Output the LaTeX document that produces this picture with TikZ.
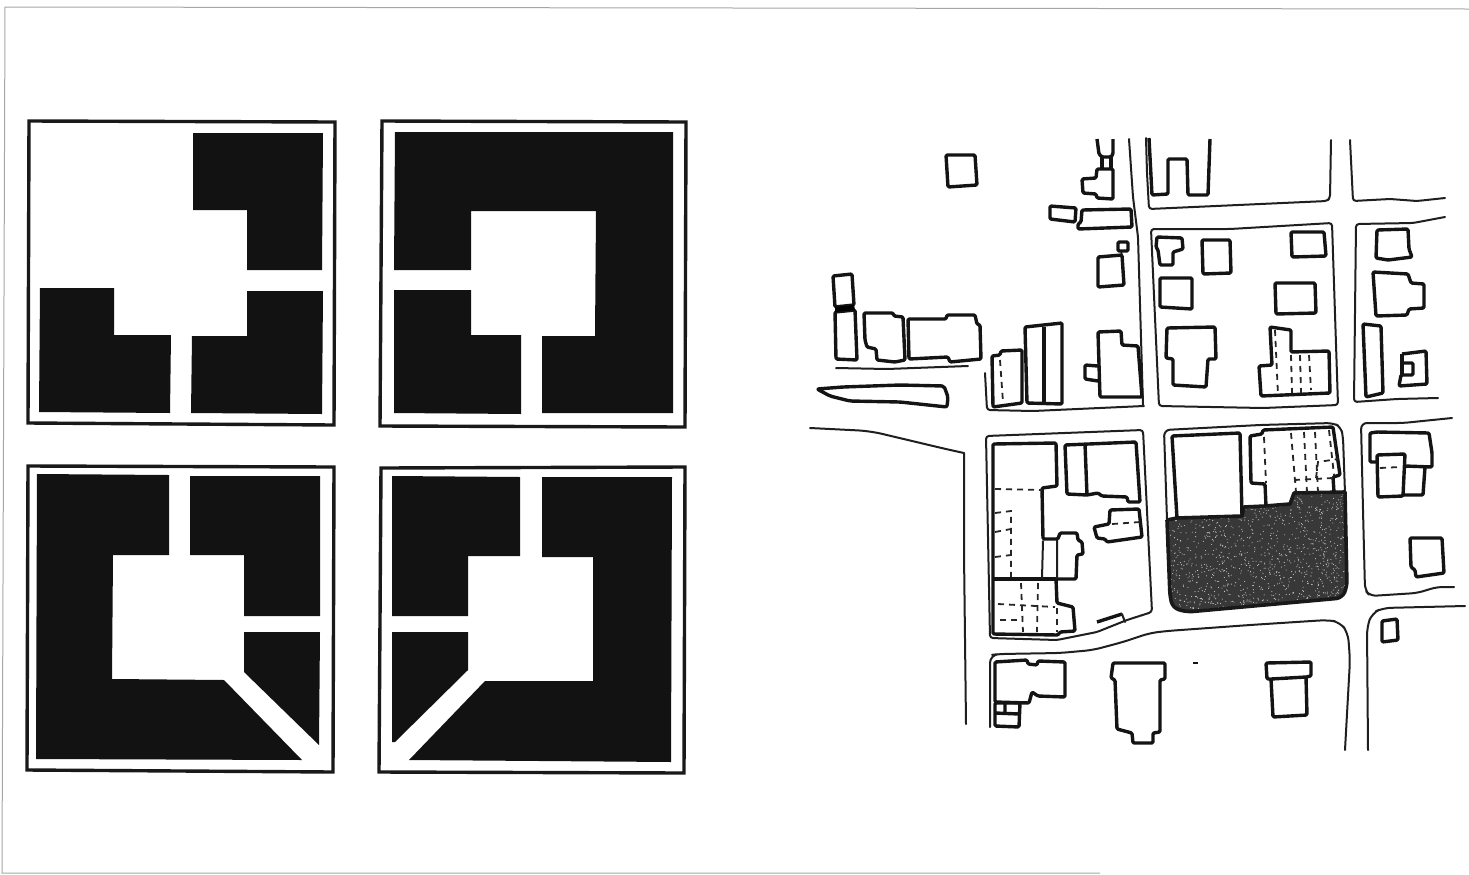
\documentclass[tikz,border=0pt]{standalone}
\usepackage{tikz}
\tikzset{
  mass/.style={fill=black!93,draw=none},
  panel/.style={draw=black!90,line width=1.7pt},
  bldg/.style={draw=black!92,line width=1.7pt,line join=round,rounded corners=0.6pt},
  road/.style={draw=black!88,line width=1pt,line join=round,line cap=round,rounded corners=1.5pt},
  hidn/.style={draw=black!85,line width=0.9pt,dash pattern=on 3pt off 2.5pt},
}
\begin{document}
\begin{tikzpicture}[x=0.5pt,y=-0.5pt]
\useasboundingbox (0,0) rectangle (1469,874);
%%%%%%%%%%%%%%%%%%%% sheet edge %%%%%%%%%%%%%%%%%%%%
\draw[gray!70,line width=0.5pt] (1469,9) -- (5,7) -- (2,873) -- (1100,873);
%%%%%%%%%%%%%%%%%%%% panel top left %%%%%%%%%%%%%%%%%%%%
\draw[panel] (29,121) -- (335,122) -- (334,425) -- (28,423) -- cycle;
\fill[mass] (193,133) -- (323,133) -- (322,270) -- (247,270) -- (247,210) -- (193,210) -- cycle;
\fill[mass] (40,288) -- (114,288) -- (114,335) -- (171,335) -- (170,413) -- (39,412) -- cycle;
\fill[mass] (247,291) -- (323,291) -- (322,414) -- (191,413) -- (192,336) -- (247,336) -- cycle;
%%%%%%%%%%%%%%%%%%%% panel top right %%%%%%%%%%%%%%%%%%%%
\draw[panel] (382,121) -- (686,122) -- (685,427) -- (380,426) -- cycle;
\fill[mass] (395,132) -- (673,132) -- (673,413) -- (542,413) -- (542,336) -- (595,336) -- (596,211) -- (471,211) -- (471,270) -- (394,270) -- cycle;
\fill[mass] (394,290) -- (471,290) -- (471,335) -- (521,335) -- (521,414) -- (394,413) -- cycle;
%%%%%%%%%%%%%%%%%%%% panel bottom left %%%%%%%%%%%%%%%%%%%%
\draw[panel] (28,466) -- (334,467) -- (333,772) -- (27,770) -- cycle;
\fill[mass] (37,474) -- (169,475) -- (169,555) -- (113,555) -- (112,679) -- (224,680) -- (302,760) -- (36,759) -- cycle;
\fill[mass] (190,476) -- (320,476) -- (320,616) -- (244,616) -- (244,555) -- (190,555) -- cycle;
\fill[mass] (244,632) -- (320,632) -- (319,745) -- (244,672) -- cycle;
%%%%%%%%%%%%%%%%%%%% panel bottom right %%%%%%%%%%%%%%%%%%%%
\draw[panel] (381,468) -- (685,467) -- (684,773) -- (379,772) -- cycle;
\fill[mass] (392,476) -- (520,477) -- (520,556) -- (468,556) -- (468,616) -- (392,616) -- cycle;
\fill[mass] (392,632) -- (468,632) -- (468,670) -- (395,742) -- (392,742) -- cycle;
\fill[mass] (542,477) -- (672,477) -- (671,762) -- (409,760) -- (485,681) -- (593,681) -- (593,557) -- (542,557) -- cycle;
%%%%%%%%%%%%%%%%%%%% the site, roads %%%%%%%%%%%%%%%%%%%%
\draw[road] (1129,139) -- (1133,197) -- (1138,237) -- (1143,405);
\draw[road] (985,373) -- (987,410) -- (1033,411) -- (1144,406);
\draw[road] (836,368) -- (887,369) -- (968,366);
\draw[road,rounded corners=6pt] (810,428) -- (870,431) -- (950,450) -- (964,453);
\draw[road] (964,453) -- (964,553) -- (966,724);
\draw[road] (1146,138) -- (1147,173) -- (1149,209) -- (1327,201) -- (1330,198) -- (1331,140);
\draw[road] (1350,140) -- (1353,201) -- (1390,199) -- (1417,201) -- (1445,198);
\draw[road] (1151,229) -- (1230,229) -- (1332,223) -- (1338,405) -- (1263,408) -- (1159,406) -- cycle;
\draw[road] (1445,217) -- (1413,223) -- (1356,224) -- (1354,402) -- (1397,399) -- (1438,398);
\draw[road] (986,436) -- (1143,430) -- (1152,612) -- (1127,620) -- (1097,632) -- (1057,640) -- (990,638) -- cycle;
\draw[road,rounded corners=4pt] (990,727) -- (990,655) -- (1000,654) -- (1060,653) -- (1093,650) -- (1123,642) -- (1150,633) -- (1167,631) -- (1250,625) -- (1327,620) -- (1340,622) -- (1348,633) -- (1350,660) -- (1345,750);
\draw[road,rounded corners=3pt] (1167,520) -- (1164,430) -- (1260,425) -- (1333,423) -- (1341,427) -- (1343,437) -- (1345,493);
\draw[road,rounded corners=3pt] (1452,418) -- (1403,423) -- (1361,423) -- (1363,510) -- (1365,590) -- (1370,596) -- (1417,593) -- (1437,587) -- (1454,587);
\draw[road,rounded corners=4pt] (1465,606) -- (1383,608) -- (1372,613) -- (1367,627) -- (1368,750);
%%%%%%%%%%%%%%%%%%%% the site, upper left %%%%%%%%%%%%%%%%%%%%
\draw[bldg] (946,155) -- (975,155) -- (977,185) -- (948,187) -- cycle;
\draw[bldg] (1097,139) -- (1099,154) -- (1102,157) -- (1111,157) -- (1113,154) -- (1113,139);
\draw[bldg] (1102,157) -- (1102,169) (1111,157) -- (1111,169);
\draw[bldg] (1097,169) -- (1113,169) -- (1113,199) -- (1097,198) -- (1096,194) -- (1083,193) -- (1082,179) -- (1096,178) -- cycle;
\draw[bldg] (1050,206) -- (1076,208) -- (1075,222) -- (1050,219) -- cycle;
\draw[bldg] (1082,210) -- (1131,209) -- (1132,227) -- (1078,229) -- (1078,224) -- (1081,222) -- cycle;
\draw[bldg] (1118,242) rectangle (1128,251);
\draw[bldg] (1098,257) -- (1122,255) -- (1124,285) -- (1098,287) -- cycle;
\draw[bldg,line width=0.8pt] (1121,251) -- (1122,255);
\draw[bldg] (833,276) -- (852,274) -- (854,305) -- (835,307) -- cycle;
\draw[bldg] (835,312) -- (855,310) -- (857,360) -- (836,359) -- cycle;
\fill[black] (835,307) -- (854,305) -- (855,310) -- (835,312) -- cycle;
\draw[bldg] (864,313) -- (893,313) -- (894,316) -- (903,317) -- (905,360) -- (895,362) -- (877,360) -- (876,349) -- (867,347) -- (865,340) -- cycle;
\draw[bldg] (908,319) -- (946,319) -- (947,315) -- (975,315) -- (977,324) -- (980,325) -- (981,359) -- (950,362) -- (948,357) -- (909,359) -- cycle;
\draw[bldg,rounded corners=1pt] (817,389) -- (843,387) -- (900,385) -- (944,386) -- (948,397) -- (947,407) -- (900,402) -- (850,401) -- (830,396) -- cycle;
\draw[bldg] (992,356) -- (1000,355) -- (1001,351) -- (1022,350) -- (1022,403) -- (993,407) -- cycle;
\draw[hidn] (1000,360) -- (1003,402);
\draw[bldg] (1025,327) -- (1062,323) -- (1062,404) -- (1027,403) -- cycle;
\draw[bldg] (1044,327) -- (1044,405);
\draw[bldg] (1098,332) -- (1121,331) -- (1122,345) -- (1138,346) -- (1142,397) -- (1100,397) -- cycle;
\draw[bldg] (1098,366) -- (1085,365) -- (1085,379) -- (1098,381);
%%%%%%%%%%%%%%%%%%%% the site, upper middle %%%%%%%%%%%%%%%%%%%%
\draw[bldg] (1149,138) -- (1152,195) -- (1168,194) -- (1168,159) -- (1187,159) -- (1188,195) -- (1208,195) -- (1210,139);
\draw[bldg] (1157,237) -- (1182,238) -- (1183,249) -- (1173,252) -- (1173,265) -- (1160,265) -- (1158,250) -- (1156,247) -- cycle;
\draw[bldg] (1202,240) -- (1230,240) -- (1231,273) -- (1203,274) -- cycle;
\draw[bldg] (1291,232) -- (1324,232) -- (1326,256) -- (1292,257) -- cycle;
\draw[bldg] (1160,278) -- (1192,278) -- (1192,309) -- (1160,307) -- cycle;
\draw[bldg] (1275,283) -- (1315,283) -- (1316,313) -- (1276,314) -- cycle;
\draw[bldg] (1167,328) -- (1215,327) -- (1216,359) -- (1208,359) -- (1206,387) -- (1173,385) -- (1173,359) -- (1166,358) -- cycle;
\draw[bldg] (1270,327) -- (1291,330) -- (1291,352) -- (1329,351) -- (1330,393) -- (1261,396) -- (1259,366) -- (1272,365) -- cycle;
\draw[hidn] (1275,330) -- (1278,395);
\draw[hidn] (1291,355) -- (1292,393);
\draw[hidn] (1300,355) -- (1301,393);
\draw[hidn] (1309,355) -- (1311,390);
%%%%%%%%%%%%%%%%%%%% the site, upper right %%%%%%%%%%%%%%%%%%%%
\draw[bldg] (1377,230) -- (1408,229) -- (1409,249) -- (1412,257) -- (1388,260) -- (1376,258) -- cycle;
\draw[bldg] (1373,272) -- (1408,274) -- (1411,283) -- (1424,284) -- (1424,308) -- (1409,309) -- (1407,315) -- (1376,316) -- cycle;
\draw[bldg] (1363,324) -- (1381,326) -- (1383,393) -- (1366,397) -- cycle;
\draw[bldg] (1402,354) -- (1426,351) -- (1427,384) -- (1399,386) -- (1401,375) -- (1413,375) -- (1413,363) -- (1402,363);
\draw[bldg] (1402,354) -- (1402,375);
%%%%%%%%%%%%%%%%%%%% the site, lower left block %%%%%%%%%%%%%%%%%%%%
\draw[bldg] (993,444) -- (1056,443) -- (1057,486) -- (1042,488) -- (1043,539) -- (1058,539) -- (1060,533) -- (1077,533) -- (1078,540) -- (1082,542) -- (1083,554) -- (1077,555) -- (1076,579) -- (1056,579) -- (1057,603) -- (1073,607) -- (1075,631) -- (1060,632) -- (1058,635) -- (993,634) -- cycle;
\draw[bldg] (994,579) -- (1056,579);
\draw[road] (1043,541) -- (1042,578) (1057,540) -- (1057,578);
\draw[hidn] (995,489) -- (1042,490);
\draw[hidn] (995,513) -- (1011,511) -- (1011,577);
\draw[hidn] (995,532) -- (1011,529);
\draw[hidn] (995,557) -- (1011,555);
\draw[hidn] (1021,583) -- (1023,632);
\draw[hidn] (1038,583) -- (1037,632);
\draw[hidn] (998,604) -- (1055,607);
\draw[hidn] (1000,620) -- (1023,620);
\draw[hidn] (1057,608) -- (1057,632);
\draw[bldg] (1065,445) -- (1136,442) -- (1140,502) -- (1128,502) -- (1127,497) -- (1102,496) -- (1098,493) -- (1087,495) -- (1067,494) -- cycle;
\draw[bldg] (1085,444) -- (1087,495);
\draw[bldg] (1110,510) -- (1139,509) -- (1142,537) -- (1107,542) -- (1105,539) -- (1097,538) -- (1094,527) -- (1109,524) -- cycle;
\draw[hidn] (1112,524) -- (1140,522);
\draw[bldg] (1097,622) -- (1122,614);
\draw[road] (1122,614) -- (1125,622);
%%%%%%%%%%%%%%%%%%%% the site, south of the road %%%%%%%%%%%%%%%%%%%%
\draw[bldg] (995,662) -- (1027,660) -- (1028,664) -- (1037,665) -- (1038,661) -- (1065,662) -- (1065,697) -- (1038,696) -- (1032,692) -- (1029,703) -- (995,702) -- cycle;
\draw[bldg] (995,703) -- (1020,703) -- (1019,727) -- (995,726) -- cycle;
\draw[bldg] (995,713) -- (1019,714) (1005,703) -- (1005,713);
\draw[bldg] (1113,663) -- (1165,663) -- (1165,679) -- (1160,680) -- (1160,732) -- (1153,733) -- (1153,743) -- (1133,743) -- (1132,733) -- (1117,729) -- (1115,680) -- (1111,678) -- cycle;
\draw[bldg,line width=1.2pt] (1193,663) -- (1198,663);
\draw[bldg] (1266,663) -- (1311,662) -- (1311,676) -- (1306,677) -- (1307,715) -- (1273,717) -- (1271,679) -- (1267,679) -- cycle;
\draw[bldg] (1271,679) -- (1306,677);
%%%%%%%%%%%%%%%%%%%% the site, the dark lot and its neighbours %%%%%%%%%%%%%%%%%%%%
\begin{scope}
  \clip (1167,520) -- (1177,518) -- (1242,516) -- (1244,507) -- (1265,506) -- (1290,504) -- (1294,493) -- (1345,492) [rounded corners=3pt] -- (1347,587) -- (1342,598) -- (1187,612) -- (1173,608) -- (1170,597) -- (1167,520);
  \fill[black!78] (1160,485) rectangle (1350,615);
  \pgfmathsetseed{41}
  \foreach \s in {1,...,1300}{
    \fill[gray!42] (1165+185*rnd,490+125*rnd) circle (0.55);
  }
\end{scope}
\draw[draw=black!90,line width=1.8pt,line join=round] (1167,520) -- (1177,518) -- (1242,516) -- (1244,507) -- (1265,506) -- (1290,504) -- (1294,493) -- (1345,492) [rounded corners=3pt] -- (1347,587) -- (1342,598) -- (1187,612) -- (1173,608) -- (1170,597) -- (1167,520);
\draw[bldg] (1177,518) -- (1172,436) -- (1240,433) -- (1242,516);
\draw[bldg] (1334,492) -- (1333,477) -- (1340,475) -- (1333,427) -- (1263,430) -- (1262,434) -- (1250,436) -- (1251,483) -- (1265,484) -- (1266,506);
\draw[hidn] (1264,437) -- (1266,483);
\draw[hidn] (1291,433) -- (1296,492);
\draw[hidn] (1304,432) -- (1307,492);
\draw[hidn] (1315,432) -- (1318,492);
\draw[hidn] (1329,430) -- (1334,475);
\draw[hidn] (1294,480) -- (1333,478);
\draw[hidn] (1316,478) -- (1318,462) -- (1338,459);
%%%%%%%%%%%%%%%%%%%% the site, lower right %%%%%%%%%%%%%%%%%%%%
\draw[bldg] (1377,462) -- (1370,462) -- (1370,433) -- (1377,432) -- (1429,433) -- (1432,453) -- (1432,467) -- (1405,466);
\draw[bldg] (1377,455) -- (1405,454) -- (1403,496) -- (1378,497) -- cycle;
\draw[bldg] (1403,495) -- (1423,495) -- (1425,467);
\draw[hidn] (1380,468) -- (1400,467);
\draw[bldg] (1410,538) -- (1442,538) -- (1444,573) -- (1416,577) -- (1415,570) -- (1411,567) -- cycle;
\draw[bldg] (1382,621) -- (1397,619) -- (1398,640) -- (1382,642) -- cycle;
\end{tikzpicture}
\end{document}
